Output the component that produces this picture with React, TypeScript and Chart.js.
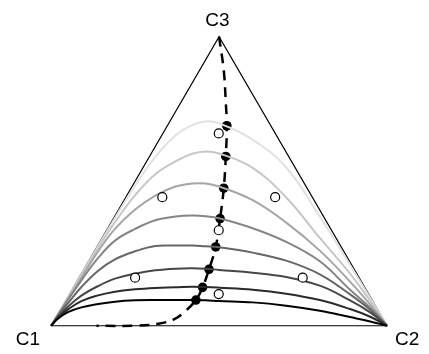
import React, { useEffect, useRef } from "react";
import { Chart, registerables } from "chart.js";

Chart.register(...registerables);

// Ternary diagram drawn on a cartesian plane: side C1–C2 = 100 units,
// x runs from C1 (0) to C2 (100), y is the height above the C1–C2 side.
const vertexLabels = ["C1", "C2", "C3"];
const triangleX = [0, 100, 50, 0];
const triangleY = [0, 0, 86.6, 0];

// Shared x positions of the eight C1→C2 curves
const curveX = [0, 2, 5, 9, 14, 19, 25, 31, 37, 42, 46, 50, 60, 70, 80, 89, 95, 100];
const curve1 = [0, 3.45, 8.5, 15.3, 23.9, 32.3, 42.0, 50.6, 57.0, 60.1, 61.2, 60.6, 55.7, 47.4, 32.7, 18.2, 8.3, 0];
const curve2 = [0, 3.35, 8.3, 14.9, 23.3, 31.0, 39.1, 45.4, 49.2, 51.5, 52.2, 51.6, 47.3, 38.4, 26.3, 15.6, 7.4, 0];
const curve3 = [0, 3.3, 8.0, 14.3, 22.3, 29.0, 34.8, 39.0, 41.7, 42.6, 42.6, 41.7, 37.6, 30.9, 22.5, 13.2, 6.3, 0];
const curve4 = [0, 3.2, 7.7, 13.6, 20.3, 25.5, 29.0, 31.6, 32.7, 33.0, 32.8, 32.2, 29.2, 25.1, 19.3, 10.8, 5.4, 0];
const curve5 = [0, 2.9, 6.7, 11.6, 16.5, 19.9, 22.3, 23.9, 24.0, 24.0, 23.8, 23.5, 21.9, 19.5, 15.4, 9.4, 4.8, 0];
const curve6 = [0, 2.6, 5.7, 9.0, 11.9, 14.1, 15.6, 16.6, 17.1, 17.2, 17.1, 16.7, 15.9, 14.6, 12.0, 7.6, 4.0, 0];
const curve7 = [0, 2.3, 4.9, 7.4, 9.1, 10.2, 10.9, 11.3, 11.5, 11.7, 11.6, 11.4, 10.8, 9.6, 7.7, 5.0, 2.7, 0];
const curve8 = [0, 2.1, 4.1, 5.5, 6.5, 7.2, 7.6, 7.7, 7.7, 7.7, 7.6, 7.4, 7.0, 6.0, 4.5, 2.6, 1.3, 0];
const curveSeries = [curve1, curve2, curve3, curve4, curve5, curve6, curve7, curve8];
const curveColors = ["#e0e0e0", "#c6c6c6", "#a5a5a5", "#858585", "#666666", "#474747", "#2a2a2a", "#000000"];

// Dashed path from C3 down to the C1–C2 side
const pathX = [50, 50.2, 51.4, 52.0, 52.3, 52.0, 51.4, 50.3, 49.0, 47.0, 45.1, 43.1, 40.1, 36.7, 31.9, 25.1, 13.5];
const pathY = [86.6, 85.1, 76.5, 66.9, 59.9, 50.7, 41.2, 32.1, 23.6, 16.9, 11.5, 7.7, 4.5, 2.0, 0.6, 0, 0];

// Filled markers where the path crosses each curve
const filledX = [52.3, 52.0, 51.4, 50.3, 49.0, 47.0, 45.1, 43.1];
const filledY = [59.9, 50.7, 41.2, 32.1, 23.6, 16.9, 11.5, 7.7];

// Open markers
const openX = [49.9, 33.1, 66.7, 49.9, 25.0, 74.9, 49.9];
const openY = [57.6, 38.5, 38.5, 28.6, 14.4, 14.4, 9.5];

const toPoints = (xs: number[], ys: number[]) => xs.map((x, i) => ({ x, y: ys[i] }));

const vertexLabelPlugin = {
  id: "vertexLabels",
  afterDatasetsDraw(chart: any) {
    const { ctx, scales } = chart;
    const xs = scales.x;
    const ys = scales.y;
    const offsets = [
      [-23.2, 18.8],
      [20.1, 18.8],
      [-1.7, -10.2],
    ];
    ctx.save();
    ctx.font = '19px "Liberation Sans", Arial, sans-serif';
    ctx.fillStyle = "#000";
    ctx.textAlign = "center";
    ctx.textBaseline = "alphabetic";
    vertexLabels.forEach((label, i) => {
      const px = xs.getPixelForValue(triangleX[i]) + offsets[i][0];
      const py = ys.getPixelForValue(triangleY[i]) + offsets[i][1];
      ctx.fillText(label, px, py);
    });
    ctx.restore();
  },
};

export default function App() {
  const canvasRef = useRef<HTMLCanvasElement | null>(null);

  useEffect(() => {
    if (!canvasRef.current) return;

    const curveSets = curveSeries.map((ys, i) => ({
      data: toPoints(curveX, ys),
      showLine: true,
      borderColor: curveColors[i],
      borderWidth: 2,
      pointRadius: 0,
      tension: 0.4,
      order: 8 - i,
    }));

    const chart = new Chart(canvasRef.current, {
      type: "scatter",
      data: {
        datasets: [
          {
            data: toPoints(openX, openY),
            showLine: false,
            pointRadius: 4.5,
            pointBackgroundColor: "#ffffff",
            pointBorderColor: "#000000",
            pointBorderWidth: 1.2,
            order: 0,
          },
          ...curveSets,
          {
            data: toPoints(filledX, filledY),
            showLine: false,
            pointRadius: 4.8,
            pointBackgroundColor: "#000000",
            pointBorderColor: "#000000",
            pointBorderWidth: 0,
            order: 9,
          },
          {
            data: toPoints(pathX, pathY),
            showLine: true,
            borderColor: "#000000",
            borderWidth: 2.5,
            borderDash: [10, 7],
            tension: 0.4,
            pointRadius: 0,
            order: 10,
          },
          {
            data: toPoints(triangleX, triangleY),
            showLine: true,
            borderColor: "#000000",
            borderWidth: 1.2,
            tension: 0,
            pointRadius: 0,
            order: 11,
          },
        ] as any,
      },
      options: {
        animation: false,
        responsive: false,
        events: [],
        layout: { padding: 0 },
        plugins: {
          legend: { display: false },
          tooltip: { enabled: false },
        },
        scales: {
          x: { type: "linear", display: false, bounds: "data", min: -13.536, max: 110.812 },
          y: { type: "linear", display: false, bounds: "data", min: -6.754, max: 95.855 },
        },
      },
      plugins: [vertexLabelPlugin],
    });

    return () => chart.destroy();
  }, []);

  return (
    <div style={{ position: "fixed", left: 0, top: 0, width: 429, height: 354, background: "#fff" }}>
      <canvas ref={canvasRef} width={429} height={354} style={{ display: "block" }} />
    </div>
  );
}
